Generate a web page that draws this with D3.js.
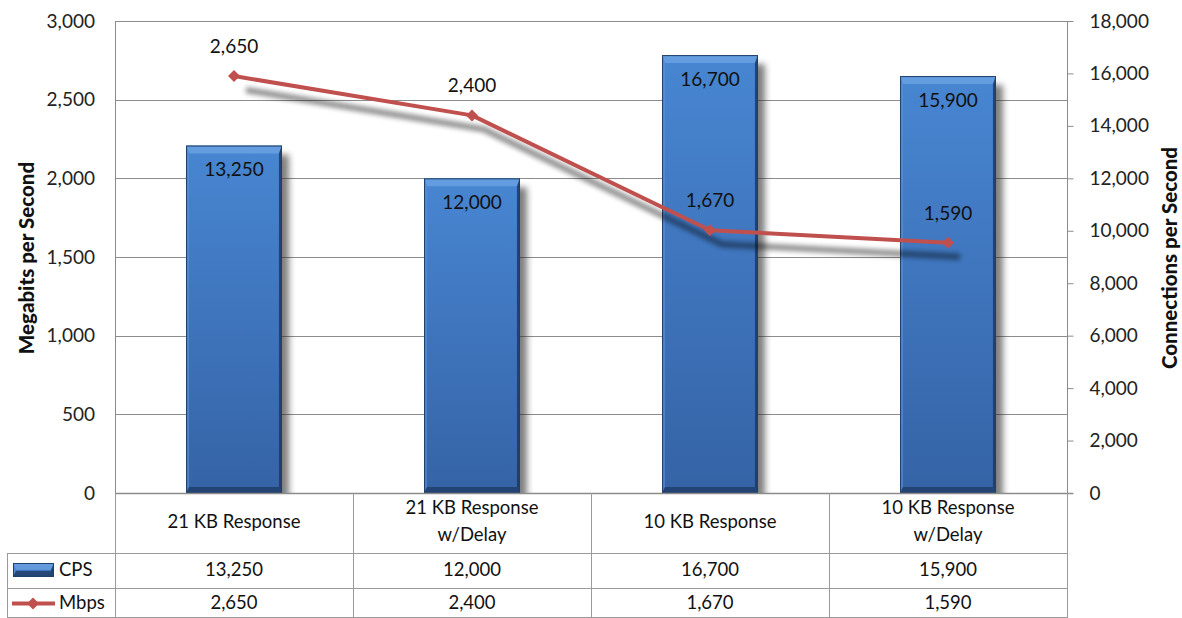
<!DOCTYPE html>
<html>
<head>
<meta charset="utf-8">
<script src="https://cdn.jsdelivr.net/npm/d3@7"></script>
<style>
  html, body { margin: 0; padding: 0; background: #fff; }
  svg { display: block; font-family: Lato, "Liberation Sans", sans-serif; }
</style>
</head>
<body>
<svg id="chart" width="1182" height="618"></svg>
<script>
// Throughput test results: connections per second (bars, right axis)
// and megabits per second (line, left axis).
const categories = [
  ["21 KB Response"],
  ["21 KB Response", "w/Delay"],
  ["10 KB Response"],
  ["10 KB Response", "w/Delay"]
];
const cps = [13250, 12000, 16700, 15900];
const mbps = [2650, 2400, 1670, 1590];
const leftTicks = [0, 500, 1000, 1500, 2000, 2500, 3000];
const rightTicks = [0, 2000, 4000, 6000, 8000, 10000, 12000, 14000, 16000, 18000];
const seriesNames = ["CPS", "Mbps"];

const fmt = d3.format(",");
const svg = d3.select("#chart");

const plot = { left: 115, right: 1067, top: 21, bottom: 493 };
const rows = { cat: 553, cps: 588, mbps: 618 };
const legendLeft = 7;

const keys = categories.map(c => c.join(" "));
const x = d3.scaleBand()
  .domain(keys)
  .range([plot.left, plot.right])
  .paddingInner(0.597)
  .paddingOuter(0.2985);
const step = x.step();
const cx = k => x(k) + x.bandwidth() / 2;

const yL = d3.scaleLinear().domain([0, 3000]).range([plot.bottom, plot.top]);
const yR = d3.scaleLinear().domain([0, 18000]).range([plot.bottom, plot.top]);

// ---- defs: gradients and shadows ----
const defs = svg.append("defs");
const barGrad = defs.append("linearGradient").attr("id", "barGrad")
  .attr("x1", 0).attr("y1", 0).attr("x2", 0).attr("y2", 1);
barGrad.append("stop").attr("offset", "0%").attr("stop-color", "#4886d2");
barGrad.append("stop").attr("offset", "100%").attr("stop-color", "#3563a6");

const barShadow = defs.append("filter").attr("id", "barShadow")
  .attr("x", "-30%").attr("y", "-10%").attr("width", "160%").attr("height", "120%");
barShadow.append("feGaussianBlur").attr("stdDeviation", 3);

const lineShadow = defs.append("filter").attr("id", "lineShadow")
  .attr("x", "-10%").attr("y", "-20%").attr("width", "120%").attr("height", "140%");
lineShadow.append("feGaussianBlur").attr("stdDeviation", 2.5);

const clip = defs.append("clipPath").attr("id", "plotClip");
clip.append("rect").attr("x", plot.left).attr("y", 0)
  .attr("width", plot.right - plot.left + 40).attr("height", plot.bottom);

// ---- gridlines ----
svg.append("g")
  .selectAll("line")
  .data(leftTicks)
  .join("line")
  .attr("x1", plot.left).attr("x2", plot.right)
  .attr("y1", d => Math.round(yL(d)) + 0.5).attr("y2", d => Math.round(yL(d)) + 0.5)
  .attr("stroke", "#8c8c8c").attr("stroke-width", 1);

// plot side borders
svg.append("line").attr("x1", plot.left + 0.5).attr("x2", plot.left + 0.5)
  .attr("y1", plot.top).attr("y2", plot.bottom).attr("stroke", "#8c8c8c");
svg.append("line").attr("x1", plot.right + 0.5).attr("x2", plot.right + 0.5)
  .attr("y1", plot.top).attr("y2", plot.bottom).attr("stroke", "#8c8c8c");

// ---- left axis ----
const axisL = svg.append("g")
  .attr("transform", `translate(${plot.left},0)`)
  .call(d3.axisLeft(yL).tickValues(leftTicks).tickFormat(fmt).tickSize(0).tickPadding(20));
axisL.select(".domain").remove();
axisL.selectAll("text").attr("font-size", 19).attr("fill", "#222").attr("font-family", "Lato");

// ---- right axis ----
const axisR = svg.append("g")
  .attr("transform", `translate(${plot.right + 0.5},0)`)
  .call(d3.axisRight(yR).tickValues(rightTicks).tickFormat(fmt).tickSize(6).tickPadding(16));
axisR.select(".domain").remove();
axisR.selectAll("line").attr("stroke", "#8c8c8c");
axisR.selectAll("text").attr("font-size", 19).attr("fill", "#222").attr("font-family", "Lato");

// ---- axis titles ----
svg.append("text")
  .attr("transform", `translate(34,${(plot.top + plot.bottom) / 2 + 1}) rotate(-90)`)
  .attr("text-anchor", "middle")
  .attr("font-weight", "900").attr("font-size", 20.5).attr("fill", "#111")
  .text("Megabits per Second");
svg.append("text")
  .attr("transform", `translate(1177,${(plot.top + plot.bottom) / 2 + 1}) rotate(-90)`)
  .attr("text-anchor", "middle")
  .attr("font-weight", "900").attr("font-size", 20.5).attr("fill", "#111")
  .text("Connections per Second");

// ---- bars ----
function drawBevelBar(g, x0, y0, w, h) {
  const t = Math.min(8, h / 2), s = 3, b = 6;
  g.append("rect").attr("x", x0).attr("y", y0).attr("width", w).attr("height", h)
    .attr("fill", "url(#barGrad)");
  // top bevel
  g.append("path").attr("d", `M${x0},${y0}H${x0 + w}L${x0 + w - s},${y0 + t}H${x0 + s}Z`)
    .attr("fill", "#6ea4e4").attr("opacity", 0.75);
  // left bevel
  g.append("path").attr("d", `M${x0},${y0}L${x0 + s},${y0 + t}V${y0 + h - b}L${x0},${y0 + h}Z`)
    .attr("fill", "#5a92d8").attr("opacity", 0.6);
  // right bevel
  g.append("path").attr("d", `M${x0 + w},${y0}L${x0 + w - s},${y0 + t}V${y0 + h - b}L${x0 + w},${y0 + h}Z`)
    .attr("fill", "#1d3a63").attr("opacity", 0.85);
  // bottom bevel
  g.append("path").attr("d", `M${x0},${y0 + h}H${x0 + w}L${x0 + w - s},${y0 + h - b}H${x0 + s}Z`)
    .attr("fill", "#1b365e").attr("opacity", 0.7);
  g.append("rect").attr("x", x0 + 0.5).attr("y", y0 + 0.5).attr("width", w - 1).attr("height", h - 1)
    .attr("fill", "none").attr("stroke", "#203f6b").attr("stroke-width", 1);
}

const barsG = svg.append("g");
cps.forEach((v, i) => {
  const k = keys[i];
  const x0 = x(k), w = x.bandwidth(), y0 = yR(v), h = plot.bottom - y0;
  barsG.append("rect")
    .attr("clip-path", "url(#plotClip)")
    .attr("x", x0 + 7).attr("y", y0 + 9).attr("width", w).attr("height", h)
    .attr("fill", "#2a2a2a").attr("opacity", 0.6)
    .attr("filter", "url(#barShadow)");
  drawBevelBar(barsG.append("g"), x0, y0, w, h);
  barsG.append("text")
    .attr("x", cx(k)).attr("y", y0 + 26)
    .attr("text-anchor", "middle").attr("dominant-baseline", "middle")
    .attr("font-size", 19).attr("fill", "#111")
    .text(fmt(v));
});

// ---- line series ----
const pts = mbps.map((v, i) => [cx(keys[i]), yL(v)]);
const lineGen = d3.line();
const lineRed = "#c0504d";

svg.append("path")
  .attr("d", lineGen(pts.map(p => [p[0] + 12, p[1] + 14])))
  .attr("fill", "none").attr("stroke", "#000").attr("stroke-width", 6)
  .attr("opacity", 0.45).attr("filter", "url(#lineShadow)");

svg.append("path")
  .attr("d", lineGen(pts))
  .attr("fill", "none").attr("stroke", lineRed).attr("stroke-width", 4)
  .attr("stroke-linejoin", "round");

const diamond = d3.symbol().type(d3.symbolSquare).size(72);
svg.append("g").selectAll("path")
  .data(pts)
  .join("path")
  .attr("d", diamond)
  .attr("transform", d => `translate(${d[0]},${d[1]}) rotate(45)`)
  .attr("fill", lineRed);

svg.append("g").selectAll("text")
  .data(mbps)
  .join("text")
  .attr("x", (d, i) => pts[i][0])
  .attr("y", (d, i) => pts[i][1] - 28)
  .attr("text-anchor", "middle").attr("dominant-baseline", "middle")
  .attr("font-size", 19).attr("fill", "#111")
  .text(d => fmt(d));

// ---- data table ----
const tbl = svg.append("g").attr("stroke", "#9a9a9a").attr("stroke-width", 1);
tbl.append("line").attr("x1", plot.left).attr("x2", plot.right + 6)
  .attr("y1", plot.bottom + 0.5).attr("y2", plot.bottom + 0.5).attr("stroke", "#8c8c8c").attr("stroke-width", 1.5);
[rows.cat, rows.cps].forEach(yy => {
  tbl.append("line").attr("x1", legendLeft).attr("x2", plot.right)
    .attr("y1", yy + 0.5).attr("y2", yy + 0.5);
});
tbl.append("line").attr("x1", legendLeft).attr("x2", plot.right)
  .attr("y1", rows.mbps - 0.5).attr("y2", rows.mbps - 0.5);
tbl.append("line").attr("x1", legendLeft + 0.5).attr("x2", legendLeft + 0.5)
  .attr("y1", rows.cat).attr("y2", rows.mbps);
const colEdges = keys.map(k => x(k) - (step - x.bandwidth()) / 2).concat([plot.right]);
colEdges.forEach(ex => {
  tbl.append("line").attr("x1", Math.round(ex) + 0.5).attr("x2", Math.round(ex) + 0.5)
    .attr("y1", plot.bottom).attr("y2", rows.mbps);
});

// category labels
categories.forEach((lines, i) => {
  const k = keys[i];
  const mid = (plot.bottom + rows.cat) / 2;
  const t = svg.append("text").attr("text-anchor", "middle")
    .attr("font-size", 18.5).attr("fill", "#111");
  lines.forEach((ln, j) => {
    t.append("tspan").attr("x", cx(k))
      .attr("y", mid + (j - (lines.length - 1) / 2) * 27)
      .attr("dominant-baseline", "middle")
      .text(ln);
  });
});

// value rows
const rowMid = [(rows.cat + rows.cps) / 2, (rows.cps + rows.mbps) / 2];
[cps, mbps].forEach((vals, r) => {
  svg.append("g").selectAll("text")
    .data(vals)
    .join("text")
    .attr("x", (d, i) => cx(keys[i]))
    .attr("y", rowMid[r] + 1)
    .attr("text-anchor", "middle").attr("dominant-baseline", "middle")
    .attr("font-size", 18.5).attr("fill", "#111")
    .text(d => fmt(d));
});

// legend keys
const lg = svg.append("g");
drawBevelBar(lg.append("g"), 13, 563, 41, 14);
lg.append("line").attr("x1", 12).attr("x2", 55)
  .attr("y1", rowMid[1] + 0.5).attr("y2", rowMid[1] + 0.5)
  .attr("stroke", lineRed).attr("stroke-width", 4);
lg.append("path").attr("d", diamond)
  .attr("transform", `translate(33,${rowMid[1] + 0.5}) rotate(45)`)
  .attr("fill", lineRed);
seriesNames.forEach((n, r) => {
  lg.append("text").attr("x", 59).attr("y", rowMid[r] + 1)
    .attr("dominant-baseline", "middle")
    .attr("font-size", 18.5).attr("fill", "#111")
    .text(n);
});
</script>
</body>
</html>
